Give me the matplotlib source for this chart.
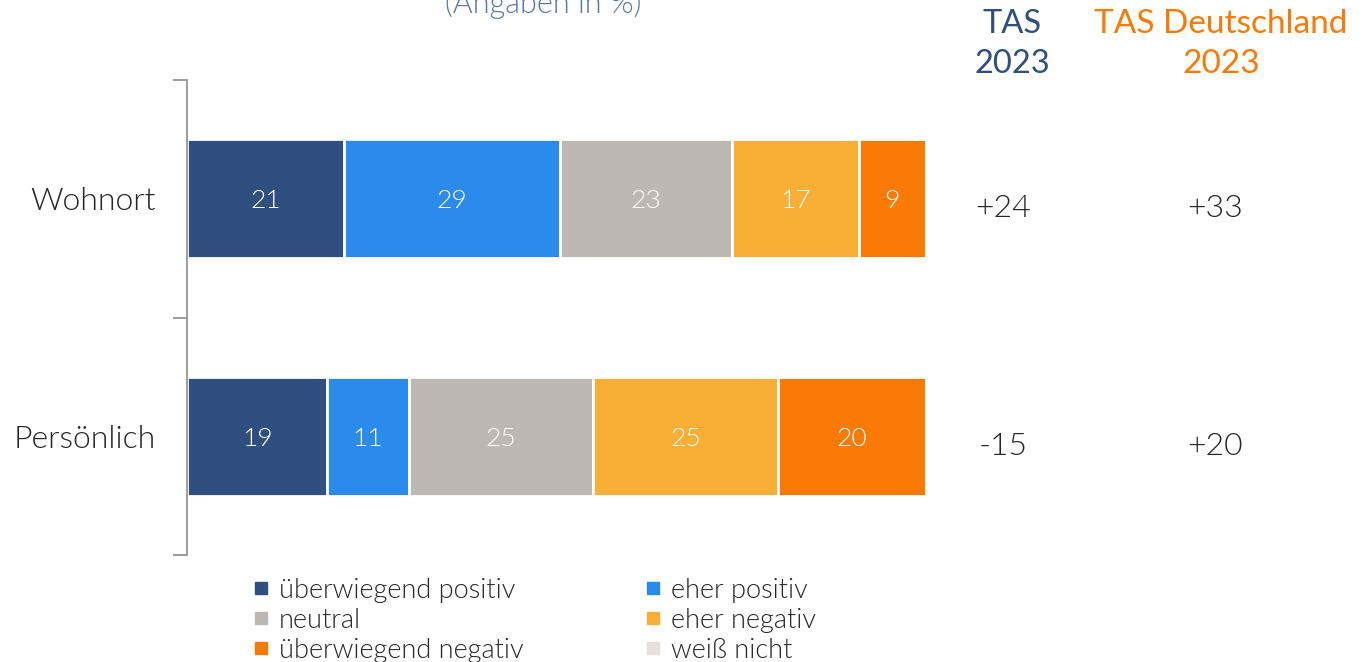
import matplotlib.pyplot as plt
from matplotlib import font_manager
from matplotlib.lines import Line2D
import numpy as np
import os

# Lato Light if it is there, else plain Lato
light = [f.fname for f in font_manager.fontManager.ttflist
         if os.path.basename(f.fname).lower() in ("lato-light.ttf", "lato-light.otf")]
plt.rcParams["font.family"] = "Lato"

CATEGORIES = ["Wohnort", "Persönlich"]
SERIES = ["überwiegend positiv", "eher positiv", "neutral",
          "eher negativ", "überwiegend negativ", "weiß nicht"]
VALUES = {
    "überwiegend positiv": [21, 19],
    "eher positiv": [29, 11],
    "neutral": [23, 25],
    "eher negativ": [17, 25],
    "überwiegend negativ": [9, 20],
    "weiß nicht": [0, 0],
}
TAS_2023 = ["+24", "-15"]
TAS_DE_2023 = ["+33", "+20"]

COLORS = {
    "überwiegend positiv": "#2E4F80",
    "eher positiv": "#2A8BEB",
    "neutral": "#BDB8B3",
    "eher negativ": "#F9AE35",
    "überwiegend negativ": "#F97B05",
    "weiß nicht": "#E5E0D9",
}
DARK_BLUE, ORANGE, TEXT = "#2E4F80", "#F97B05", "#262626"


def lp(size):
    if light:
        return font_manager.FontProperties(fname=light[0], size=size)
    return font_manager.FontProperties(family="Lato", size=size)


fig = plt.figure(figsize=(13.66, 6.62), dpi=100)
ax = fig.add_axes([187 / 1366, 1 - 555 / 662, 739 / 1366, 475 / 662])

y = np.arange(len(CATEGORIES))
totals = np.sum([VALUES[s] for s in SERIES], axis=0)
left = np.zeros(len(CATEGORIES))
for s in SERIES:
    vals = np.array(VALUES[s], dtype=float)
    w = vals / totals * 100
    ax.barh(y, w, left=left, height=0.5, color=COLORS[s],
            edgecolor="white", linewidth=2)
    for yi, (l, wi, v) in enumerate(zip(left, w, vals)):
        if v > 0:
            ax.text(l + wi / 2, yi, f"{int(v)}", color="white", ha="center",
                    va="center_baseline", fontproperties=lp(19))
    left += w

ax.set_xlim(0, 100)
ax.set_ylim(1.5, -0.5)
for sp in ("top", "right", "bottom"):
    ax.spines[sp].set_visible(False)
ax.spines["left"].set_color("#8c8c8c")
ax.spines["left"].set_linewidth(1.2)
ax.set_xticks([])
ax.set_yticks([-0.5, 0.5, 1.5])
ax.set_yticklabels([])
ax.tick_params(axis="y", length=10, color="#8c8c8c", width=1.2)
for yi, c in enumerate(CATEGORIES):
    ax.text(-4.2, yi, c, ha="right", va="center_baseline", color=TEXT,
            fontproperties=lp(23))

for yi, (a, b) in enumerate(zip(TAS_2023, TAS_DE_2023)):
    ax.text(110.4, yi + 0.03, a, ha="center", va="center_baseline",
            color=TEXT, clip_on=False, fontproperties=lp(23))
    ax.text(139.1, yi + 0.03, b, ha="center", va="center_baseline",
            color=TEXT, clip_on=False, fontproperties=lp(23))

fig.text(1012 / 1366, 1 - 73 / 662, "TAS\n2023", ha="center", va="baseline",
         fontsize=23.5, color=DARK_BLUE, linespacing=1.4)
fig.text(1221 / 1366, 1 - 73 / 662, "TAS Deutschland\n2023", ha="center",
         va="baseline", fontsize=24, color=ORANGE, linespacing=1.4)
fig.text(543 / 1366, 1 - 13 / 662, "(Angaben in %)", ha="center",
         va="baseline", color="#5B77A8", fontproperties=lp(22))

order = ["überwiegend positiv", "neutral", "überwiegend negativ",
         "eher positiv", "eher negativ", "weiß nicht"]
handles = [Line2D([], [], marker="s", linestyle="none", markersize=8.6,
                  markerfacecolor=COLORS[s], markeredgecolor=COLORS[s])
           for s in order]
fig.legend(handles, order, ncol=2, loc="upper left",
           bbox_to_anchor=(238 / 1366, 1 - 564 / 662), frameon=False,
           handlelength=0.7, handletextpad=0.3,
           columnspacing=4.45, labelspacing=0.19, borderpad=0,
           labelcolor=TEXT, prop=lp(19.5))

fig.savefig("out.png", dpi=100)
